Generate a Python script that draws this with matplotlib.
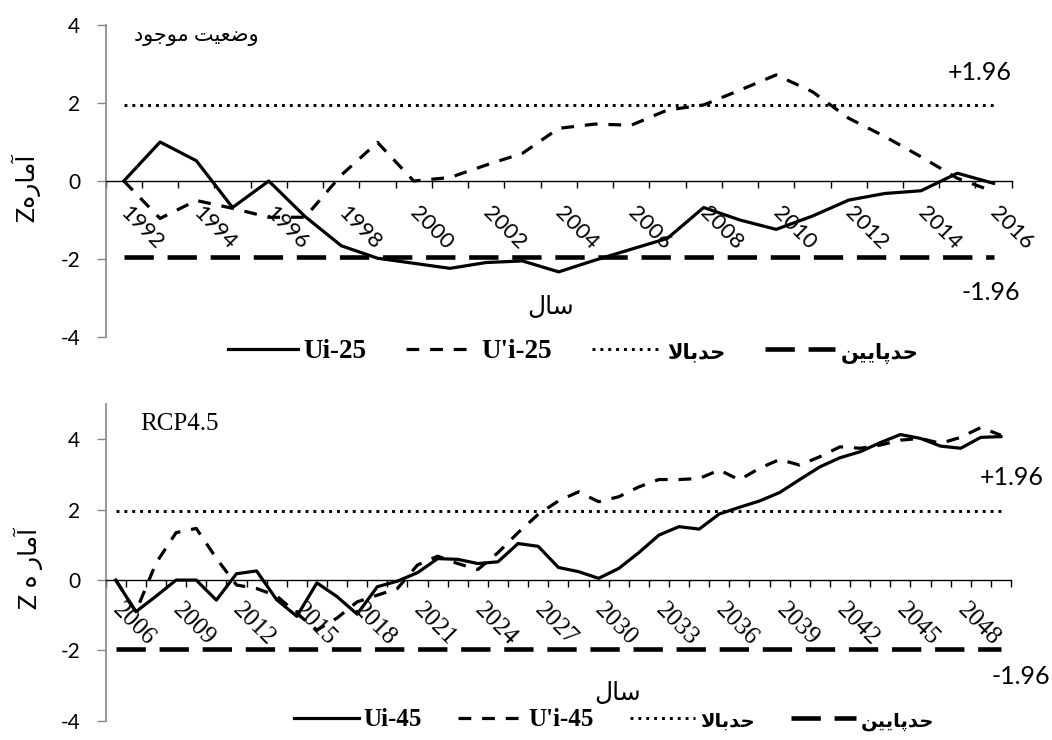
import re
import numpy as np
import matplotlib
matplotlib.use("Agg")
import matplotlib.pyplot as plt

plt.rcParams['axes.unicode_minus'] = False

# ---------------- data ----------------
years_25 = list(range(1992, 2017))
ui_25 = [0.00, 1.00, 0.52, -0.68, 0.00, -0.91, -1.66, -1.98, -2.11, -2.24, -2.09, -2.05, -2.33,
         -2.03, -1.75, -1.47, -0.68, -1.00, -1.24, -0.90, -0.49, -0.32, -0.25, 0.20, -0.06]
u2_25 = [0.00, -0.96, -0.50, -0.70, -0.93, -0.93, 0.15, 0.99, 0.00, 0.09, 0.41, 0.71, 1.35,
         1.46, 1.43, 1.82, 1.95, 2.33, 2.72, 2.29, 1.61, 1.14, 0.62, 0.07, -0.27]

years_45 = list(range(2006, 2051))
ui_45 = [0.00, -0.90, -0.46, 0.00, 0.00, -0.57, 0.18, 0.26, -0.56, -1.03,
         -0.08, -0.47, -0.97, -0.19, -0.03, 0.21, 0.61, 0.59, 0.47, 0.52,
         1.04, 0.96, 0.36, 0.24, 0.05, 0.33, 0.78, 1.28, 1.52, 1.45,
         1.88, 2.07, 2.25, 2.49, 2.86, 3.22, 3.48, 3.65, 3.91, 4.14,
         4.03, 3.81, 3.75, 4.06, 4.08]
u2_45 = [0.00, -0.90, 0.48, 1.35, 1.47, 0.62, -0.14, -0.24, -0.45, -0.95,
         -1.42, -1.08, -0.62, -0.43, -0.24, 0.43, 0.68, 0.47, 0.30, 0.78,
         1.35, 1.87, 2.25, 2.51, 2.23, 2.37, 2.65, 2.86, 2.86, 2.89,
         3.13, 2.85, 3.18, 3.43, 3.27, 3.51, 3.79, 3.75, 3.84, 3.98,
         4.03, 3.89, 4.06, 4.34, 4.12]

upper_limit = 1.96
lower_limit = -1.96

label_top_names = ["Ui-25", "U'i-25", "حدبالا", "حدپایین"]
label_bot_names = ["Ui-45", "U'i-45", "حدبالا", "حدپایین"]
title_top = "وضعیت موجود"
title_bot = "RCP4.5"
xlabel_text = "سال"
ylabel_top = "آمارهZ"
ylabel_bot = "آمار ه Z"

# ---------------- simple Arabic shaping (presentation forms, visual order) ----------------
FORMS = {
    'ا': ('\uFE8D', '\uFE8E', None, None),
    'آ': ('\uFE81', '\uFE82', None, None),
    'ب': ('\uFE8F', '\uFE90', '\uFE91', '\uFE92'),
    'پ': ('\uFB56', '\uFB57', '\uFB58', '\uFB59'),
    'ت': ('\uFE95', '\uFE96', '\uFE97', '\uFE98'),
    'ج': ('\uFE9D', '\uFE9E', '\uFE9F', '\uFEA0'),
    'ح': ('\uFEA1', '\uFEA2', '\uFEA3', '\uFEA4'),
    'د': ('\uFEA9', '\uFEAA', None, None),
    'ر': ('\uFEAD', '\uFEAE', None, None),
    'س': ('\uFEB1', '\uFEB2', '\uFEB3', '\uFEB4'),
    'ض': ('\uFEBD', '\uFEBE', '\uFEBF', '\uFEC0'),
    'ع': ('\uFEC9', '\uFECA', '\uFECB', '\uFECC'),
    'ل': ('\uFEDD', '\uFEDE', '\uFEDF', '\uFEE0'),
    'م': ('\uFEE1', '\uFEE2', '\uFEE3', '\uFEE4'),
    'ن': ('\uFEE5', '\uFEE6', '\uFEE7', '\uFEE8'),
    'ه': ('\uFEE9', '\uFEEA', '\uFEEB', '\uFEEC'),
    'و': ('\uFEED', '\uFEEE', None, None),
    'ی': ('\uFEEF', '\uFEF0', '\uFEF3', '\uFEF4'),
}


def shape(text):
    chars = list(text)
    n = len(chars)
    res = []
    i = 0

    def joins_left(c):
        return c in FORMS and FORMS[c][2] is not None

    while i < n:
        c = chars[i]
        if c not in FORMS:
            res.append(c)
            i += 1
            continue
        prev = chars[i - 1] if i > 0 else None
        jp = prev is not None and joins_left(prev)
        if c == 'ل' and i + 1 < n and chars[i + 1] == 'ا':
            res.append('\uFEFC' if jp else '\uFEFB')
            i += 2
            continue
        nxt = chars[i + 1] if i + 1 < n else None
        jn = joins_left(c) and nxt is not None and nxt in FORMS
        iso, fin, ini, med = FORMS[c]
        if jp and jn:
            res.append(med)
        elif jp:
            res.append(fin)
        elif jn:
            res.append(ini)
        else:
            res.append(iso)
        i += 1
    s = ''.join(res)
    runs = re.findall(r"[A-Za-z0-9.+'\-]+|[^A-Za-z0-9.+'\-]+", s)
    runs = [r if re.match(r"[A-Za-z0-9]", r) else r[::-1] for r in runs]
    return ''.join(runs[::-1])


# ---------------- figure ----------------
W, H = 1052, 740
fig = plt.figure(figsize=(W / 100, H / 100), dpi=100)

SANS = ['Lato', 'DejaVu Sans']
SERIF = ['Liberation Serif', 'DejaVu Sans']


def fx(px):
    return px / W


def fy(py):
    return 1 - py / H


def draw_panel(rect, years, ui, u2, ylim, step, tick_family, tick_size, pad, names,
               leg_center, leg_size, ar_size):
    ax = fig.add_axes(rect)
    n = len(years)
    idx = np.arange(n)
    hi = [upper_limit] * n
    lo = [lower_limit] * n
    l_hi, = ax.plot(idx, hi, color='black', lw=2.1, linestyle=(0, (1, 1.7)), zorder=2)
    l_lo, = ax.plot(idx, lo, color='black', lw=3.3, linestyle=(0, (6.4, 3.0)), zorder=2)
    l_u2, = ax.plot(idx, u2, color='black', lw=2.3, linestyle=(0, (4.0, 3.4)), zorder=3)
    l_ui, = ax.plot(idx, ui, color='black', lw=2.3, linestyle='-', zorder=4)

    ax.set_xlim(-0.5, n - 0.5)
    ax.set_ylim(*ylim)
    for s in ('top', 'right'):
        ax.spines[s].set_visible(False)
    ax.spines['bottom'].set_position(('data', 0))
    ax.spines['bottom'].set_color('black')
    ax.spines['bottom'].set_linewidth(1.0)
    ax.spines['left'].set_color('#868686')
    ax.spines['left'].set_linewidth(1.2)

    ax.set_yticks([-4, -2, 0, 2, 4])
    ax.set_xticks(np.arange(-0.5, n, 1.0))
    ax.set_xticklabels([])
    lab_idx = idx[::step]
    ax.set_xticks(lab_idx, [str(years[k]) for k in lab_idx], minor=True)
    ax.tick_params(axis='x', which='major', length=5, width=1, color='black', direction='out')
    ax.tick_params(axis='x', which='minor', length=0, pad=pad)
    ax.tick_params(axis='y', length=6.5, width=1, color='#868686', pad=12, direction='out',
                   labelsize=15)
    for lab in ax.get_yticklabels():
        lab.set_fontfamily(SANS)
    for lab in ax.get_xticklabels(minor=True):
        lab.set_rotation(-45)
        lab.set_ha('left')
        lab.set_va('center')
        lab.set_rotation_mode('anchor')
        lab.set_fontfamily(tick_family)
        lab.set_fontsize(tick_size)

    leg = fig.legend([l_ui, l_u2, l_hi, l_lo],
                     [names[0], names[1], shape(names[2]), shape(names[3])],
                     loc='center', bbox_to_anchor=leg_center, ncol=4, frameon=False,
                     handlelength=2.6, handletextpad=0.2, columnspacing=1.45,
                     prop={'family': SERIF, 'weight': 'bold', 'size': leg_size})
    for t in leg.get_texts()[2:]:
        t.set_fontsize(ar_size)
    return ax


ax1 = draw_panel([fx(105.7), fy(337), fx(906), 312 / H], years_25, ui_25, u2_25, (-4, 4), 2,
                 SANS, 16, 21, label_top_names, (fx(573), fy(352)), 19.5, 15)
ax2 = draw_panel([fx(105.7), fy(720.7), fx(905.3), 316.4 / H], years_45, ui_45, u2_45, (-4, 5), 3,
                 SERIF, 18, 19.5, label_bot_names, (fx(614), fy(720)), 18, 14)

# limit annotations
fig.text(fx(980), fy(72), '+1.96', ha='center', va='center', fontsize=18, family=SANS)
fig.text(fx(991), fy(292), '-1.96', ha='center', va='center', fontsize=18, family=SANS)
fig.text(fx(1012), fy(478), '+1.96', ha='center', va='center', fontsize=18, family=SANS)
fig.text(fx(1021), fy(677), '-1.96', ha='center', va='center', fontsize=18, family=SANS)

# axis titles
fig.text(fx(551), fy(306), shape(xlabel_text), ha='center', va='center', fontsize=18, family=SANS)
fig.text(fx(618), fy(693), shape(xlabel_text), ha='center', va='center', fontsize=18, family=SANS)
fig.text(fx(26), fy(188), shape(ylabel_top), ha='center', va='center', rotation=90,
         fontsize=18, family=SANS)
fig.text(fx(28), fy(568), shape(ylabel_bot), ha='center', va='center', rotation=90,
         fontsize=18, family=SANS)

# panel titles
fig.text(fx(196), fy(37), shape(title_top), ha='center', va='center', fontsize=15, family=SERIF)
fig.text(fx(179), fy(424), title_bot, ha='center', va='center', fontsize=18, family=SERIF)

fig.savefig('out.png', dpi=100)
